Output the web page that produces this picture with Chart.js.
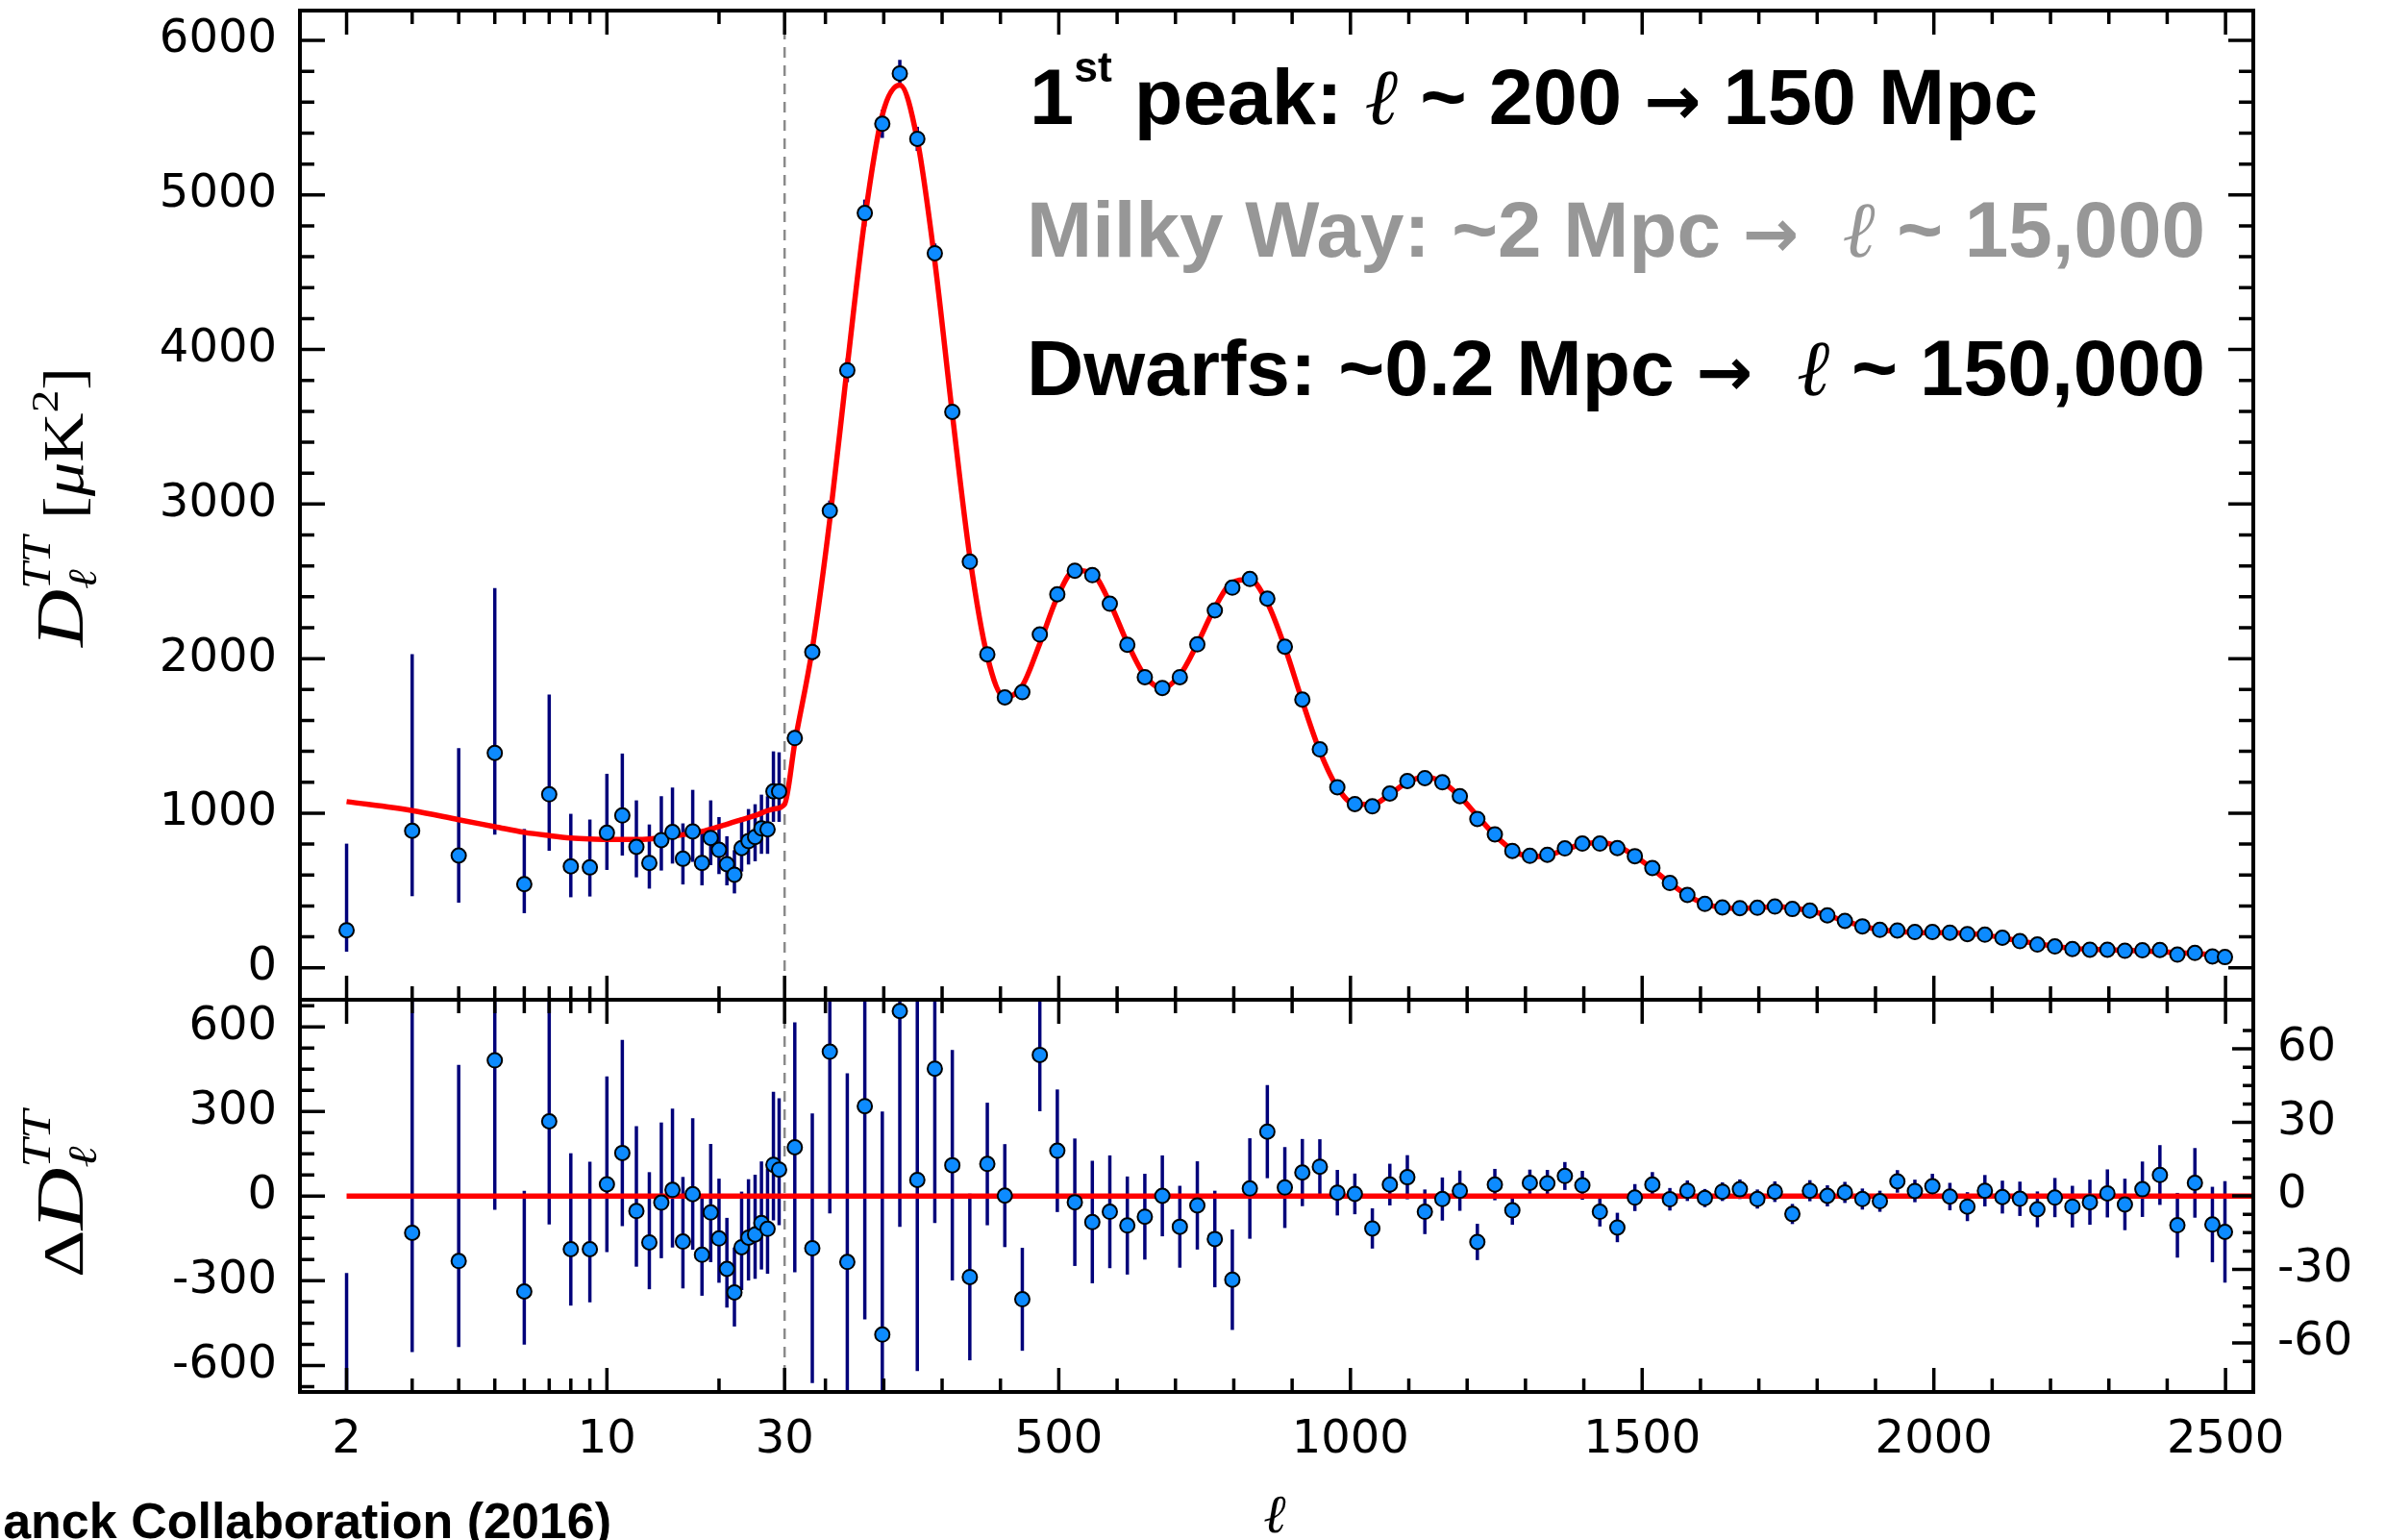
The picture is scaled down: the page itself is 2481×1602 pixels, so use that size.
<!DOCTYPE html>
<html>
<head>
<meta charset="utf-8">
<title>Planck TT power spectrum</title>
<script src="https://cdn.jsdelivr.net/npm/chart.js@4.4.1/dist/chart.umd.min.js"></script>
<style>
  html, body { margin: 0; padding: 0; background: #fff; }
  #wrap { position: relative; width: 2481px; height: 1602px; overflow: hidden; background: #fff; }
  #wrap canvas { position: absolute; left: 0; top: 0; }
</style>
</head>
<body>
<div id="wrap">
  <canvas id="topChart" width="2481" height="1602"></canvas>
  <canvas id="resChart" width="2481" height="1602"></canvas>
</div>
<script>
// low multipoles, one point per l (log axis part)
const lowEll = [2, 3, 4, 5, 6, 7, 8, 9, 10, 11, 12, 13, 14, 15, 16, 17, 18, 19, 20, 21, 22, 23, 24, 25, 26, 27, 28, 29];
const lowD = [243, 886, 726, 1390, 541, 1122, 656, 649, 873, 985, 782, 678, 826, 878, 705, 882, 678, 840, 763, 670, 602, 774, 820, 846, 902, 896, 1141, 1141];
const lowErrMinus = [139, 423, 305, 529, 188, 365, 200, 188, 240, 259, 197, 166, 197, 204, 166, 197, 145, 176, 157, 137, 121, 152, 152, 157, 165, 159, 197, 197];
const lowErrPlus = [560, 1143, 695, 1066, 357, 646, 340, 310, 382, 401, 301, 249, 284, 288, 229, 269, 204, 243, 212, 181, 159, 197, 207, 212, 218, 214, 259, 253];
const lowResid = [-832, -130, -230, 481, -338, 265, -188, -188, 42, 153, -53, -164, -23, 22, -161, 7, -208, -58, -150, -258, -341, -181, -147, -136, -95, -116, 111, 94];

// binned points above l = 30 (linear axis part)
const highEll = [47.5, 77.5, 107.5, 137.5, 167.5, 197.5, 227.5, 257.5, 287.5, 317.5,
  347.5, 377.5, 407.5, 437.5, 467.5, 497.5, 527.5, 557.5, 587.5, 617.5,
  647.5, 677.5, 707.5, 737.5, 767.5, 797.5, 827.5, 857.5, 887.5, 917.5,
  947.5, 977.5, 1007.5, 1037.5, 1067.5, 1097.5, 1127.5, 1157.5, 1187.5, 1217.5,
  1247.5, 1277.5, 1307.5, 1337.5, 1367.5, 1397.5, 1427.5, 1457.5, 1487.5, 1517.5,
  1547.5, 1577.5, 1607.5, 1637.5, 1667.5, 1697.5, 1727.5, 1757.5, 1787.5, 1817.5,
  1847.5, 1877.5, 1907.5, 1937.5, 1967.5, 1997.5, 2027.5, 2057.5, 2087.5, 2117.5,
  2147.5, 2177.5, 2207.5, 2237.5, 2267.5, 2297.5, 2327.5, 2357.5, 2387.5, 2417.5,
  2447.5, 2477.5, 2499];
const highD = [1486, 2043, 2957, 3866, 4883, 5460, 5786, 5363, 4623, 3597,
  2627, 2028, 1749, 1783, 2156, 2416, 2569, 2540, 2355, 2090,
  1880, 1810, 1880, 2092, 2312, 2459, 2515, 2388, 2077, 1735,
  1413, 1168, 1059, 1044, 1127, 1208, 1227, 1200, 1110, 963,
  863, 756, 724, 731, 772, 803, 803, 774, 722, 645,
  548, 471, 413, 390, 386, 388, 396, 380, 370, 339,
  303, 268, 245, 241, 231, 231, 227, 218, 214, 194,
  172, 150, 138, 121, 117, 117, 110, 113, 115, 85,
  96, 73, 69];
const highErr = [51, 55, 66, 77, 87, 91, 88, 78, 63, 47,
  34, 25, 21, 21, 23, 25, 26, 25, 23, 20,
  17.5, 16.5, 16.7, 18, 19.7, 20.5, 20.5, 19, 16.5, 13.7,
  11.2, 9.3, 8.3, 8.2, 8.5, 9, 9.1, 8.8, 8.2, 7.4,
  6.4, 5.9, 5.4, 5.5, 5.7, 5.9, 6, 6, 5.5, 5.1,
  4.6, 4.2, 3.7, 3.8, 4, 3.9, 4.2, 4.1, 4.3, 4.3,
  4.3, 4.3, 4.3, 4.6, 4.6, 5.1, 5.6, 5.9, 6.4, 6.7,
  7, 7.3, 8, 8.5, 9.2, 9.8, 10.5, 11.3, 12.2, 13.2,
  14.2, 15.4, 20.7];
const highResid = [19.8, -21.4, 58.8, -27, 36.6, -56.6, 75.4, 6.5, 51.9, 12.5,
  -33.1, 13, 0.1, -42.2, 57.5, 18.4, -2.6, -10.7, -6.5, -12.1,
  -8.5, 0, -12.6, -3.9, -17.6, -34.2, 3, 26.2, 3.4, 9.5,
  11.9, 1.3, 0.8, -13.3, 4.6, 7.6, -6.5, -1.3, 2.1, -18.8,
  4.6, -5.9, 5.3, 5.1, 8.1, 4.3, -6.5, -12.9, -0.7, 4.6,
  -1.4, 2.1, -0.9, 1.7, 2.7, -1.3, 1.7, -7.4, 2.1, 0,
  1.4, -1.3, -2.2, 5.9, 2, 3.9, -0.3, -4.4, 2.1, -0.5,
  -1.2, -5.5, -0.7, -4.4, -2.6, 1, -3.5, 2.7, 8.5, -12,
  5.3, -11.7, -14.7];

// best-fit model curve
const modelLowEll = [2, 3, 4, 5, 6, 7, 8, 9, 10, 12, 15, 18, 20, 22, 25, 28, 30];
const modelLowD = [1075, 1017, 958, 913, 876, 855, 840, 833, 830, 830, 851, 882, 913, 944, 985, 1027, 1058];
const modelHighD = [1455, 2064, 2898, 3893, 4846, 5517, 5711, 5356, 4571, 3584,
  2660, 2015, 1749, 1825, 2098, 2398, 2572, 2551, 2362, 2102,
  1889, 1810, 1893, 2096, 2330, 2493, 2512, 2362, 2074, 1725,
  1401, 1167, 1058, 1057, 1122, 1200, 1234, 1201, 1108, 982,
  858, 762, 719, 726, 764, 799, 810, 787, 723, 640,
  549, 469, 414, 388, 383, 389, 394, 387, 368, 339,
  302, 269, 247, 235, 229, 227, 227, 222, 212, 194,
  173, 155, 139, 125, 120, 116, 113, 110, 104, 98,
  92, 86, 82];
const zeroLineEll = [2, 2548];

// ticks
const xTickVals = [2, 10, 30, 500, 1000, 1500, 2000, 2500];
const xTickText = ['2', '10', '30', '500', '1000', '1500', '2000', '2500'];
const xMinor = [3, 4, 5, 6, 7, 8, 9, 20, 100, 200, 300, 400, 600, 700, 800, 900,
  1100, 1200, 1300, 1400, 1600, 1700, 1800, 1900, 2100, 2200, 2300, 2400];
const topYTicks = [0, 1000, 2000, 3000, 4000, 5000, 6000];
const topYMinor = [200, 400, 600, 800, 1200, 1400, 1600, 1800, 2200, 2400, 2600, 2800,
  3200, 3400, 3600, 3800, 4200, 4400, 4600, 4800, 5200, 5400, 5600, 5800];
const resYTicks = [-600, -300, 0, 300, 600];
const resYMinor = [-675, -525, -450, -375, -225, -150, -75, 75, 150, 225, 375, 450, 525, 675];
const resY2Ticks = [-60, -30, 0, 30, 60];
const resY2Minor = [-67.5, -52.5, -45, -37.5, -22.5, -15, -7.5, 7.5, 15, 22.5, 37.5, 45, 52.5, 67.5];

// axis is log below l=30 and linear above
const LOG_UNITS = 638.4;
const X_MIN = -800.8, X_MAX = 2547.6;
function lx(l) { return l >= 30 ? l : 30 - LOG_UNITS * Math.log10(30 / l); }

const RED = '#ff0000', DOT = '#0d8bff', BAR = '#00007a';
const SANS = '"Liberation Sans", Arial, Helvetica, sans-serif';
const SERIF = '"Liberation Serif", "DejaVu Serif", serif';
const ARROW = '"DejaVu Sans", sans-serif';
Chart.defaults.font.family = '"DejaVu Sans", sans-serif';
Chart.defaults.color = '#000';

function drawRuns(ctx, x, y, runs, width) {
    let total = 0;
    runs.forEach(r => { ctx.font = r.font; r.w = ctx.measureText(r.t).width; if (!r.stack) total += r.w; });
    const sx = width ? width / total : 1;
    ctx.save();
    ctx.translate(x, y);
    ctx.scale(sx, 1);
    ctx.textAlign = 'left';
    ctx.textBaseline = 'alphabetic';
    let cx = 0;
    runs.forEach(r => {
        ctx.font = r.font;
        ctx.fillStyle = r.color || '#000';
        ctx.fillText(r.t, cx, r.dy || 0);
        if (!r.stack) cx += r.w;
    });
    ctx.restore();
}

function makeFrame(sides) {
    return {
        id: 'frameTicks',
        afterDatasetsDraw(chart) {
            const { ctx, chartArea: a } = chart;
            const xs = chart.scales.x;
            ctx.save();
            ctx.strokeStyle = '#000';
            ctx.lineWidth = 3.5;
            ctx.beginPath();
            const tickX = (vals, len) => vals.forEach(v => {
                const px = xs.getPixelForValue(lx(v));
                ctx.moveTo(px, a.top); ctx.lineTo(px, a.top + len);
                ctx.moveTo(px, a.bottom); ctx.lineTo(px, a.bottom - len);
            });
            tickX(xTickVals, 25);
            tickX(xMinor, 14);
            sides.forEach(sd => {
                const s = chart.scales[sd.id];
                [[sd.major, sd.majorLen], [sd.minor, sd.minorLen]].forEach(([vals, len]) => {
                    vals.forEach(v => {
                        const py = s.getPixelForValue(v);
                        if (sd.side === 'left') { ctx.moveTo(a.left, py); ctx.lineTo(a.left + len, py); }
                        else { ctx.moveTo(a.right, py); ctx.lineTo(a.right - len, py); }
                    });
                });
            });
            ctx.stroke();
            ctx.lineWidth = 4;
            ctx.strokeRect(a.left, a.top, a.right - a.left, a.bottom - a.top);
            ctx.restore();
        }
    };
}

const underlay = {
    id: 'underlay',
    beforeDatasetsDraw(chart) {
        const { ctx, chartArea: a } = chart;
        ctx.save();
        ctx.beginPath();
        ctx.rect(a.left, a.top, a.right - a.left, a.bottom - a.top);
        ctx.clip();
        // dashed divider at l = 30
        const px = chart.scales.x.getPixelForValue(lx(30));
        ctx.strokeStyle = '#8a8a8a';
        ctx.lineWidth = 2.5;
        ctx.setLineDash([11, 8]);
        ctx.beginPath(); ctx.moveTo(px, a.top); ctx.lineTo(px, a.bottom); ctx.stroke();
        ctx.setLineDash([]);
        // error bars
        ctx.strokeStyle = BAR;
        ctx.lineWidth = 3.5;
        chart.data.datasets.forEach(ds => {
            if (!ds.errLo) return;
            const xs = chart.scales.x, ys = chart.scales[ds.yAxisID || 'y'];
            ds.data.forEach((p, j) => {
                const x = xs.getPixelForValue(p.x);
                ctx.beginPath();
                ctx.moveTo(x, ys.getPixelForValue(p.y - ds.errLo[j]));
                ctx.lineTo(x, ys.getPixelForValue(p.y + ds.errHi[j]));
                ctx.stroke();
            });
        });
        ctx.restore();
    }
};

const topText = {
    id: 'topText',
    afterDraw(chart) {
        const ctx = chart.ctx;
        const B = `bold 82px ${SANS}`, L = `italic 82px ${SERIF}`, A = `bold 70px ${ARROW}`;
        drawRuns(ctx, 1071, 129, [
            { t: '1', font: B }, { t: 'st', font: `bold 44px ${SANS}`, dy: -44 },
            { t: ' peak: ', font: B }, { t: 'ℓ', font: L }, { t: ' ~ 200 ', font: B },
            { t: '→', font: A }, { t: ' 150 Mpc', font: B }
        ], 1049);
        const G = '#979797';
        drawRuns(ctx, 1068, 267, [
            { t: 'Milky Way: ~2 Mpc ', font: B, color: G }, { t: '→', font: A, color: G },
            { t: '  ', font: B }, { t: 'ℓ', font: L, color: G },
            { t: ' ~ 15,000', font: B, color: G }
        ], 1226);
        drawRuns(ctx, 1068, 411, [
            { t: 'Dwarfs: ~0.2 Mpc ', font: B }, { t: '→', font: A }, { t: '  ', font: B },
            { t: 'ℓ', font: L }, { t: ' ~ 150,000', font: B }
        ], 1226);
        // y title
        ctx.save();
        ctx.translate(86, 673);
        ctx.rotate(-Math.PI / 2);
        drawRuns(ctx, 0, 0, [
            { t: 'D', font: `italic 70px ${SERIF}` },
            { t: 'ℓ', font: `italic 42px ${SERIF}`, dy: 14, stack: true },
            { t: 'TT', font: `italic 42px ${SERIF}`, dy: -34 },
            { t: ' [', font: `60px ${SERIF}` },
            { t: 'μ', font: `italic 60px ${SERIF}` },
            { t: 'K', font: `60px ${SERIF}` },
            { t: '2', font: `40px ${SERIF}`, dy: -26 },
            { t: ']', font: `60px ${SERIF}` }
        ], 291);
        ctx.restore();
    }
};

const resText = {
    id: 'resText',
    afterDraw(chart) {
        const ctx = chart.ctx;
        ctx.save();
        ctx.translate(86, 1329);
        ctx.rotate(-Math.PI / 2);
        drawRuns(ctx, 0, 0, [
            { t: 'Δ', font: `60px ${SERIF}` },
            { t: 'D', font: `italic 70px ${SERIF}` },
            { t: 'ℓ', font: `italic 42px ${SERIF}`, dy: 14, stack: true },
            { t: 'TT', font: `italic 42px ${SERIF}`, dy: -34 }
        ], 174);
        ctx.restore();
        ctx.save();
        ctx.fillStyle = '#000';
        ctx.font = `italic 56px ${SERIF}`;
        ctx.textAlign = 'center';
        ctx.textBaseline = 'alphabetic';
        ctx.fillText('ℓ', 1326, 1594);
        ctx.font = `bold 52px ${SANS}`;
        ctx.textAlign = 'right';
        ctx.fillText('Planck Collaboration (2016)', 636, 1600);
        ctx.restore();
    }
};

const noPad = s => { s.paddingTop = 0; s.paddingBottom = 0; s.paddingLeft = 0; s.paddingRight = 0; };
const yAxis = (pos, min, max, ticks, width, pad) => ({
    type: 'linear', position: pos, min, max,
    afterBuildTicks: s => { s.ticks = ticks.map(v => ({ value: v })); },
    afterFit: s => { s.width = width; noPad(s); },
    grid: { display: false, drawTicks: false },
    border: { display: false },
    ticks: { padding: pad, color: '#000', font: { size: 48 }, callback: v => String(v) }
});

const pointStyle = {
    pointRadius: 7.5, pointBackgroundColor: DOT, pointBorderColor: '#000',
    pointBorderWidth: 2, showLine: false
};

// --- top panel ---
new Chart(document.getElementById('topChart'), {
    type: 'scatter',
    data: {
        datasets: [
            {
                type: 'line',
                data: modelLowEll.map((l, i) => ({ x: lx(l), y: modelLowD[i] }))
                    .concat(highEll.map((l, i) => ({ x: lx(l), y: modelHighD[i] }))),
                borderColor: RED, borderWidth: 5.5, pointRadius: 0,
                cubicInterpolationMode: 'monotone', order: 2
            },
            {
                data: lowEll.map((l, i) => ({ x: lx(l), y: lowD[i] }))
                    .concat(highEll.map((l, i) => ({ x: lx(l), y: highD[i] }))),
                errLo: lowErrMinus.concat(highErr),
                errHi: lowErrPlus.concat(highErr),
                ...pointStyle, order: 1
            }
        ]
    },
    options: {
        responsive: false, animation: false, devicePixelRatio: 1, events: [],
        layout: { autoPadding: false, padding: { left: 0, right: 137, top: 11, bottom: 562 } },
        plugins: { legend: { display: false }, tooltip: { enabled: false } },
        scales: {
            x: { type: 'linear', min: X_MIN, max: X_MAX, display: false },
            y: yAxis('left', -207, 6193, topYTicks, 312, 24)
        }
    },
    plugins: [underlay, makeFrame([
        { id: 'y', side: 'left', major: topYTicks, minor: topYMinor, majorLen: 26, minorLen: 15 },
        { id: 'y', side: 'right', major: topYTicks, minor: topYMinor, majorLen: 26, minorLen: 15 }
    ]), topText]
});

// --- residual panel ---
new Chart(document.getElementById('resChart'), {
    type: 'scatter',
    data: {
        datasets: [
            {
                type: 'line', yAxisID: 'y',
                data: zeroLineEll.map(l => ({ x: lx(l), y: 0 })),
                borderColor: RED, borderWidth: 5.5, pointRadius: 0, order: 2
            },
            {
                yAxisID: 'y',
                data: lowEll.map((l, i) => ({ x: lx(l), y: lowResid[i] })),
                errLo: lowErrMinus, errHi: lowErrPlus,
                ...pointStyle, order: 1
            },
            {
                yAxisID: 'y2',
                data: highEll.map((l, i) => ({ x: lx(l), y: highResid[i] })),
                errLo: highErr, errHi: highErr,
                ...pointStyle, order: 1
            }
        ]
    },
    options: {
        responsive: false, animation: false, devicePixelRatio: 1, events: [],
        layout: { autoPadding: false, padding: { left: 0, right: 0, top: 1040, bottom: 0 } },
        plugins: { legend: { display: false }, tooltip: { enabled: false } },
        scales: {
            x: {
                type: 'linear', position: 'bottom', min: X_MIN, max: X_MAX,
                afterBuildTicks: s => { s.ticks = xTickVals.map(v => ({ value: lx(v) })); },
                afterFit: s => { s.height = 154; noPad(s); },
                grid: { display: false, drawTicks: false },
                border: { display: false },
                ticks: {
                    padding: 22, autoSkip: false, maxRotation: 0, color: '#000', font: { size: 48 },
                    callback: (v, i) => xTickText[i]
                }
            },
            y: yAxis('left', -694, 696, resYTicks, 312, 24),
            y2: yAxis('right', -80, 80, resY2Ticks, 137, 25)
        }
    },
    plugins: [underlay, makeFrame([
        { id: 'y', side: 'left', major: resYTicks, minor: resYMinor, majorLen: 26, minorLen: 15 },
        { id: 'y2', side: 'right', major: resY2Ticks, minor: resY2Minor, majorLen: 22, minorLen: 11 }
    ]), resText]
});
</script>
</body>
</html>
